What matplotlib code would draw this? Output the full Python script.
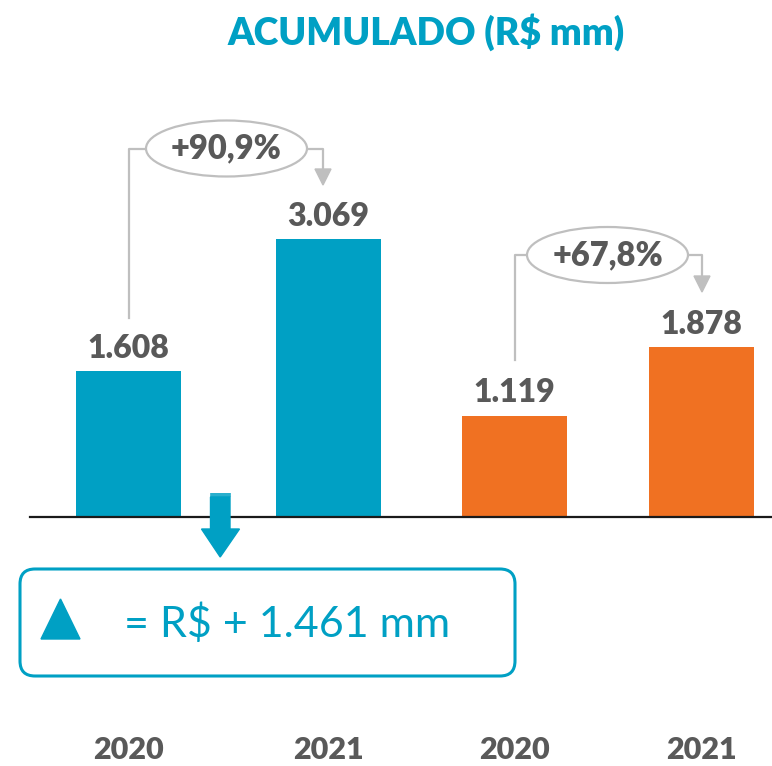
import matplotlib
matplotlib.use("Agg")
import matplotlib.pyplot as plt
from matplotlib.patches import Ellipse, FancyBboxPatch, Polygon
import numpy as np

plt.rcParams['font.family'] = ['Lato', 'DejaVu Sans']

# ---- data ----
years = ["2020", "2021", "2020", "2021"]
values = [1608, 3069, 1119, 1878]
value_labels = ["1.608", "3.069", "1.119", "1.878"]
growth_labels = ["+90,9%", "+67,8%"]
title = "ACUMULADO (R$ mm)"
box_text = "= R$ + 1.461 mm"

BLUE = "#00A0C4"
ORANGE = "#F07122"
GRAY = "#595959"
LGRAY = "#BFBFBF"
bar_colors = [BLUE, BLUE, ORANGE, ORANGE]
WEIGHT = "heavy"

W, H = 772, 766
fig = plt.figure(figsize=(W / 100, H / 100), dpi=100)

# main axes: x in pixel-like units, y in value units (baseline = 0)
ax = fig.add_axes([0, 0, 1, 1])
px_per_unit = 0.0905
base_px = 517
ax.set_xlim(0, W)
ax.set_ylim(-(H - base_px) / px_per_unit, base_px / px_per_unit)
ax.axis("off")

xpos = [128.5, 328, 514.5, 701.5]
bw = 105
ax.bar(xpos, values, width=bw, color=bar_colors, zorder=2)
ax.plot([30, W], [0, 0], color="#1a1a1a", lw=1.6, zorder=3)

# overlay axes in pixel coordinates for annotations
ov = fig.add_axes([0, 0, 1, 1], facecolor="none")
ov.set_xlim(0, W)
ov.set_ylim(H, 0)
ov.axis("off")

def ypx(v):
    return base_px - v * px_per_unit

for x, v, lab in zip(xpos, values, value_labels):
    ov.text(x, ypx(v) - 23, lab, ha="center", va="center", fontsize=23,
            fontweight=WEIGHT, color=GRAY)

for x, yl in zip(xpos, years):
    ov.text(x, 750, yl, ha="center", va="center", fontsize=22,
            fontweight=WEIGHT, color=GRAY)

ov.text(426, 32, title, ha="center", va="center", fontsize=27,
        fontweight=WEIGHT, color=BLUE)

# growth callouts
def callout(x0, x1, ystart, ytip, cx, cy, ew, eh, label):
    ov.add_patch(Ellipse((cx, cy), ew, eh, facecolor="white", edgecolor=LGRAY,
                         lw=1.6, zorder=4))
    ov.text(cx, cy, label, ha="center", va="center", fontsize=23.5,
            fontweight=WEIGHT, color=GRAY, zorder=5)
    ov.plot([x0, x0, cx - ew / 2], [ystart, cy, cy], color=LGRAY, lw=1.6, zorder=3)
    ov.plot([cx + ew / 2, x1, x1], [cy, cy, ytip - 14], color=LGRAY, lw=1.6, zorder=3)
    ov.add_patch(Polygon([[x1 - 8, ytip - 16], [x1 + 8, ytip - 16], [x1, ytip]],
                         closed=True, color=LGRAY, zorder=3))

callout(128.5, 323, 318, 185, 226.5, 148.5, 161, 56, growth_labels[0])
callout(514.5, 702, 360, 292, 607.5, 255, 161, 56, growth_labels[1])

# blue down arrow
ov.add_patch(Polygon([[210.5, 497], [230, 497], [230, 529], [239.5, 529],
                      [220.2, 557], [201.5, 529], [210.5, 529]],
                     closed=True, color=BLUE, zorder=4))
ov.plot([210.5, 230], [493.5, 493.5], color=BLUE, lw=1.2, zorder=4)
ov.plot([210.5, 230], [495.8, 495.8], color=BLUE, lw=1.2, zorder=4)

# result box
ov.add_patch(FancyBboxPatch((20, 569), 495, 107,
                            boxstyle="round,pad=0,rounding_size=15",
                            facecolor="white", edgecolor=BLUE, lw=2.2, zorder=4))
ov.add_patch(Polygon([[41, 639], [80, 639], [60.5, 599]], closed=True,
                     color=BLUE, zorder=5))
ov.text(124, 624, box_text, ha="left", va="center", fontsize=31,
        color=BLUE, zorder=5)

fig.savefig("out.png", dpi=100)
